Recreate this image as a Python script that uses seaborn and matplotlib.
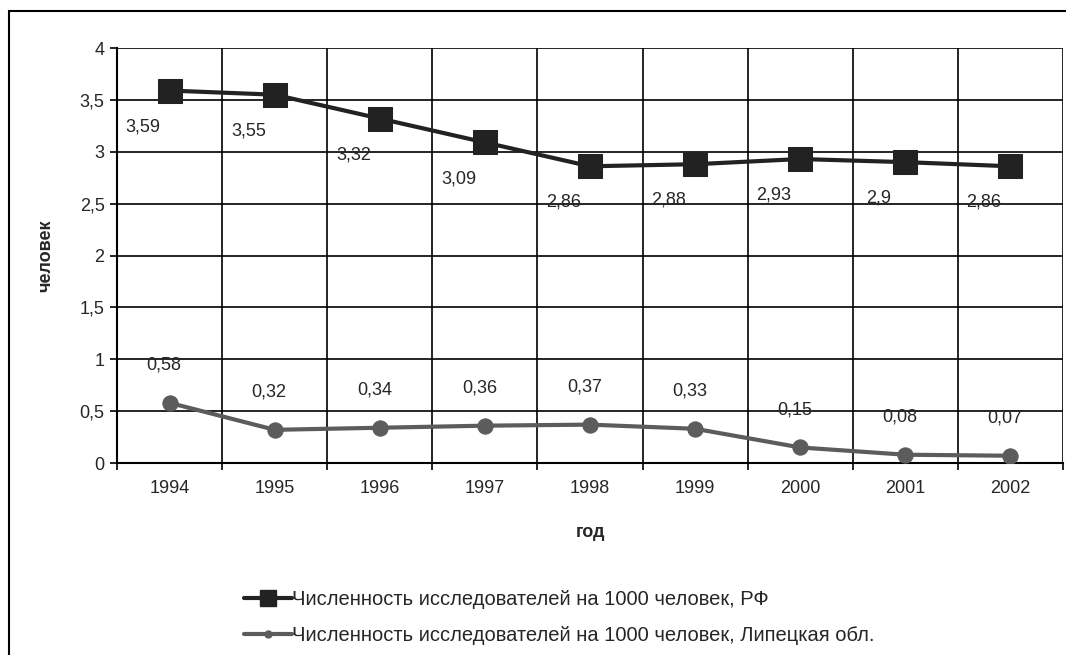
import numpy as np
import matplotlib
matplotlib.use('Agg')
import matplotlib.pyplot as plt
import seaborn as sns
import pandas as pd
from matplotlib.patches import Rectangle
from matplotlib.lines import Line2D

years = ['1994', '1995', '1996', '1997', '1998', '1999', '2000', '2001', '2002']
rf_values = [3.59, 3.55, 3.32, 3.09, 2.86, 2.88, 2.93, 2.9, 2.86]
lip_values = [0.58, 0.32, 0.34, 0.36, 0.37, 0.33, 0.15, 0.08, 0.07]
rf_name = 'Численность исследователей на 1000 человек, РФ'
lip_name = 'Численность исследователей на 1000 человек, Липецкая обл.'

sns.set_style('white')
plt.rcParams['font.family'] = ['Liberation Sans', 'DejaVu Sans']

df = pd.DataFrame({
    'год': list(range(len(years))) * 2,
    'value': rf_values + lip_values,
    'series': [rf_name] * len(years) + [lip_name] * len(years),
})

fig = plt.figure(figsize=(10.66, 6.55), dpi=100)
ax = fig.add_axes([0.1098, 0.2931, 0.8874, 0.6336])

sns.lineplot(data=df[df.series == rf_name], x='год', y='value', ax=ax,
             color='#222222', lw=3, marker='s', markersize=17,
             markeredgecolor='#222222', legend=False, zorder=3)
sns.lineplot(data=df[df.series == lip_name], x='год', y='value', ax=ax,
             color='#5c5c5c', lw=3, marker='o', markersize=11,
             markeredgecolor='#5c5c5c', legend=False, zorder=3)

ax.set_xlim(-0.5, len(years) - 0.5)
ax.set_ylim(0, 4)
yt = np.arange(0, 4.01, 0.5)
ax.set_yticks(yt)
ax.set_yticklabels([f'{v:g}'.replace('.', ',') for v in yt])
ax.set_xticks(range(len(years)))
ax.set_xticklabels(years)
ax.set_xticks(np.arange(-0.5, len(years)), minor=True)

ax.grid(which='minor', axis='x', color='black', lw=1.2)
ax.grid(which='major', axis='y', color='black', lw=1.2)
ax.tick_params(axis='x', which='major', length=0, labelsize=13, pad=12)
ax.tick_params(axis='x', which='minor', length=5, width=1.2, color='black', direction='out', bottom=True)
ax.tick_params(axis='y', length=5, width=1.2, color='black', direction='out', left=True, labelsize=13, pad=4)
for s in ['left', 'bottom']:
    ax.spines[s].set_color('black')
    ax.spines[s].set_linewidth(1.5)
for s in ['right', 'top']:
    ax.spines[s].set_visible(False)

ax.set_xlabel('год', fontsize=13, fontweight='bold', labelpad=20)
ax.set_ylabel('человек', fontsize=13, fontweight='bold', labelpad=18)

for i, v in enumerate(rf_values):
    ax.annotate(f'{v:g}'.replace('.', ','), (i, v), xytext=(-19, -26),
                textcoords='offset points', ha='center', va='center', fontsize=13)
for i, v in enumerate(lip_values):
    ax.annotate(f'{v:g}'.replace('.', ','), (i, v), xytext=(-4, 27),
                textcoords='offset points', ha='center', va='center', fontsize=13)

handles = [
    Line2D([], [], color='#222222', lw=3, marker='s', markersize=11),
    Line2D([], [], color='#5c5c5c', lw=3, marker='o', markersize=5),
]
fig.legend(handles, [rf_name, lip_name], loc='center left',
           bbox_to_anchor=(0.212, 0.057), frameon=False, fontsize=14.5,
           handlelength=2.4, handletextpad=0.0, labelspacing=0.85)

fig.patches.append(Rectangle((9 / 1066, -0.05), 1.2, 1 - 11 / 655 + 0.05, transform=fig.transFigure,
                             fill=False, edgecolor='black', lw=1.5))

fig.savefig('out.png', dpi=100)
